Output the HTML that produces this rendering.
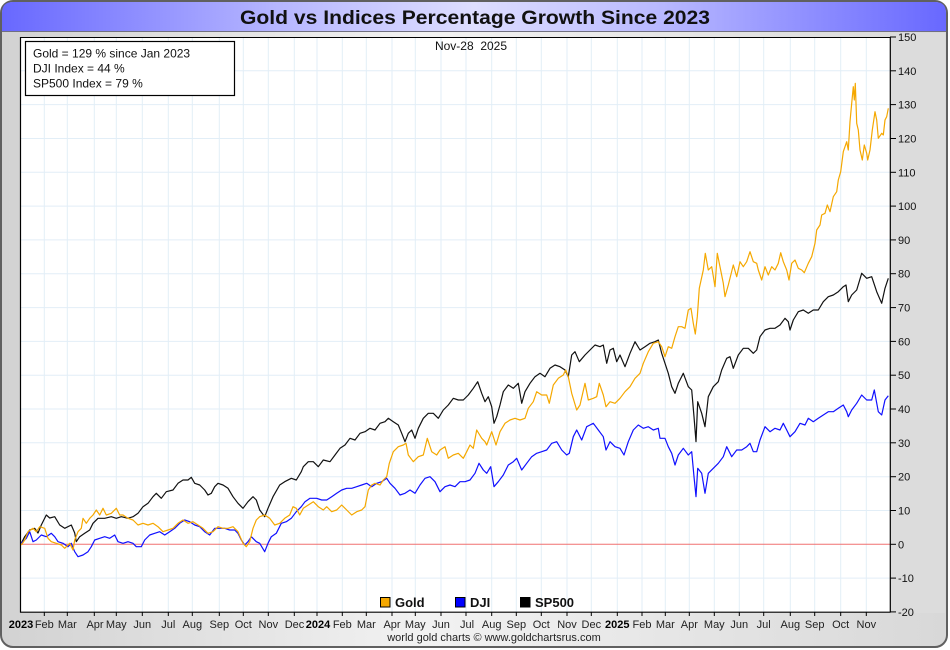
<!DOCTYPE html>
<html><head><meta charset="utf-8"><style>
html,body{margin:0;padding:0;background:#fff;}
svg{display:block;}
text{font-family:"Liberation Sans",Arial,sans-serif;}
</style></head><body>
<svg width="950" height="650" viewBox="0 0 950 650" xmlns="http://www.w3.org/2000/svg">
<defs>
<linearGradient id="tb" x1="0" x2="1" y1="0" y2="0">
<stop offset="0" stop-color="#6868ff"/><stop offset="0.3" stop-color="#b8b8ff"/><stop offset="0.5" stop-color="#dedeff"/><stop offset="0.7" stop-color="#b8b8ff"/><stop offset="1" stop-color="#6868ff"/>
</linearGradient>
<linearGradient id="bg" x1="0" x2="1" y1="0" y2="0">
<stop offset="0" stop-color="#d2d2d2"/><stop offset="0.45" stop-color="#f2f2f2"/><stop offset="1" stop-color="#d8d8d8"/>
</linearGradient>
</defs>
<rect x="0" y="0" width="950" height="650" fill="#fff"/>
<rect x="1" y="1" width="946" height="646" rx="12" ry="12" fill="url(#bg)" stroke="#606060" stroke-width="2"/>
<path d="M2,31 L2,13 Q2,2 13,2 L935,2 Q946,2 946,13 L946,31 Z" fill="url(#tb)"/>
<line x1="2" y1="31.5" x2="946" y2="31.5" stroke="#707080" stroke-width="1"/>
<text x="475" y="24" font-size="19" font-weight="bold" text-anchor="middle" fill="#111" textLength="470" lengthAdjust="spacingAndGlyphs">Gold vs Indices Percentage Growth Since 2023</text>
<rect x="891" y="33" width="54" height="580" fill="#dcdcdc"/>
<rect x="20.5" y="37" width="869.5" height="575" fill="#fff"/>
<g stroke="#e2eef7" stroke-width="1">
<line x1="21" x2="890" y1="70.8" y2="70.8"/><line x1="21" x2="890" y1="104.6" y2="104.6"/><line x1="21" x2="890" y1="138.5" y2="138.5"/><line x1="21" x2="890" y1="172.3" y2="172.3"/><line x1="21" x2="890" y1="206.1" y2="206.1"/><line x1="21" x2="890" y1="239.9" y2="239.9"/><line x1="21" x2="890" y1="273.7" y2="273.7"/><line x1="21" x2="890" y1="307.6" y2="307.6"/><line x1="21" x2="890" y1="341.4" y2="341.4"/><line x1="21" x2="890" y1="375.2" y2="375.2"/><line x1="21" x2="890" y1="409" y2="409"/><line x1="21" x2="890" y1="442.8" y2="442.8"/><line x1="21" x2="890" y1="476.7" y2="476.7"/><line x1="21" x2="890" y1="510.5" y2="510.5"/><line x1="21" x2="890" y1="578.1" y2="578.1"/>
<line x1="44.3" x2="44.3" y1="37" y2="612"/><line x1="67.3" x2="67.3" y1="37" y2="612"/><line x1="94.3" x2="94.3" y1="37" y2="612"/><line x1="116.3" x2="116.3" y1="37" y2="612"/><line x1="142.3" x2="142.3" y1="37" y2="612"/><line x1="168.3" x2="168.3" y1="37" y2="612"/><line x1="192.3" x2="192.3" y1="37" y2="612"/><line x1="219.3" x2="219.3" y1="37" y2="612"/><line x1="243.3" x2="243.3" y1="37" y2="612"/><line x1="268.3" x2="268.3" y1="37" y2="612"/><line x1="294.3" x2="294.3" y1="37" y2="612"/><line x1="317" x2="317" y1="37" y2="612"/><line x1="342.3" x2="342.3" y1="37" y2="612"/><line x1="366.3" x2="366.3" y1="37" y2="612"/><line x1="392" x2="392" y1="37" y2="612"/><line x1="415.3" x2="415.3" y1="37" y2="612"/><line x1="441" x2="441" y1="37" y2="612"/><line x1="466" x2="466" y1="37" y2="612"/><line x1="491.7" x2="491.7" y1="37" y2="612"/><line x1="516.3" x2="516.3" y1="37" y2="612"/><line x1="541.3" x2="541.3" y1="37" y2="612"/><line x1="567" x2="567" y1="37" y2="612"/><line x1="591.3" x2="591.3" y1="37" y2="612"/><line x1="617.3" x2="617.3" y1="37" y2="612"/><line x1="642" x2="642" y1="37" y2="612"/><line x1="665.3" x2="665.3" y1="37" y2="612"/><line x1="689.3" x2="689.3" y1="37" y2="612"/><line x1="714.3" x2="714.3" y1="37" y2="612"/><line x1="739.3" x2="739.3" y1="37" y2="612"/><line x1="763.7" x2="763.7" y1="37" y2="612"/><line x1="790.3" x2="790.3" y1="37" y2="612"/><line x1="814.7" x2="814.7" y1="37" y2="612"/><line x1="840.7" x2="840.7" y1="37" y2="612"/><line x1="866.3" x2="866.3" y1="37" y2="612"/>
</g>
<line x1="21" x2="890" y1="544.3" y2="544.3" stroke="#f07070" stroke-width="1"/>
<line x1="20.5" y1="37" x2="20.5" y2="612.5" stroke="#000" stroke-width="1.2"/>
<line x1="20" y1="37.5" x2="890" y2="37.5" stroke="#000" stroke-width="1"/>
<line x1="20" y1="612.2" x2="890.5" y2="612.2" stroke="#000" stroke-width="1.2"/>
<line x1="890.3" y1="37" x2="890.3" y2="612.5" stroke="#000" stroke-width="1.2"/>
<g stroke="#000" stroke-width="1">
<line x1="890" x2="896" y1="37" y2="37"/><line x1="890" x2="896" y1="70.8" y2="70.8"/><line x1="890" x2="896" y1="104.6" y2="104.6"/><line x1="890" x2="896" y1="138.5" y2="138.5"/><line x1="890" x2="896" y1="172.3" y2="172.3"/><line x1="890" x2="896" y1="206.1" y2="206.1"/><line x1="890" x2="896" y1="239.9" y2="239.9"/><line x1="890" x2="896" y1="273.7" y2="273.7"/><line x1="890" x2="896" y1="307.6" y2="307.6"/><line x1="890" x2="896" y1="341.4" y2="341.4"/><line x1="890" x2="896" y1="375.2" y2="375.2"/><line x1="890" x2="896" y1="409" y2="409"/><line x1="890" x2="896" y1="442.8" y2="442.8"/><line x1="890" x2="896" y1="476.7" y2="476.7"/><line x1="890" x2="896" y1="510.5" y2="510.5"/><line x1="890" x2="896" y1="544.3" y2="544.3"/><line x1="890" x2="896" y1="578.1" y2="578.1"/><line x1="890" x2="896" y1="611.9" y2="611.9"/>
</g>
<g font-size="11" fill="#111">
<text x="898" y="41">150</text><text x="898" y="74.8">140</text><text x="898" y="108.6">130</text><text x="898" y="142.5">120</text><text x="898" y="176.3">110</text><text x="898" y="210.1">100</text><text x="898" y="243.9">90</text><text x="898" y="277.7">80</text><text x="898" y="311.6">70</text><text x="898" y="345.4">60</text><text x="898" y="379.2">50</text><text x="898" y="413">40</text><text x="898" y="446.8">30</text><text x="898" y="480.7">20</text><text x="898" y="514.5">10</text><text x="898" y="548.3">0</text><text x="898" y="582.1">-10</text><text x="898" y="615.9">-20</text>
</g>
<g stroke="#000" stroke-width="1">
<line x1="44.3" x2="44.3" y1="612" y2="616"/><line x1="67.3" x2="67.3" y1="612" y2="616"/><line x1="94.3" x2="94.3" y1="612" y2="616"/><line x1="116.3" x2="116.3" y1="612" y2="616"/><line x1="142.3" x2="142.3" y1="612" y2="616"/><line x1="168.3" x2="168.3" y1="612" y2="616"/><line x1="192.3" x2="192.3" y1="612" y2="616"/><line x1="219.3" x2="219.3" y1="612" y2="616"/><line x1="243.3" x2="243.3" y1="612" y2="616"/><line x1="268.3" x2="268.3" y1="612" y2="616"/><line x1="294.3" x2="294.3" y1="612" y2="616"/><line x1="317" x2="317" y1="612" y2="616"/><line x1="342.3" x2="342.3" y1="612" y2="616"/><line x1="366.3" x2="366.3" y1="612" y2="616"/><line x1="392" x2="392" y1="612" y2="616"/><line x1="415.3" x2="415.3" y1="612" y2="616"/><line x1="441" x2="441" y1="612" y2="616"/><line x1="466" x2="466" y1="612" y2="616"/><line x1="491.7" x2="491.7" y1="612" y2="616"/><line x1="516.3" x2="516.3" y1="612" y2="616"/><line x1="541.3" x2="541.3" y1="612" y2="616"/><line x1="567" x2="567" y1="612" y2="616"/><line x1="591.3" x2="591.3" y1="612" y2="616"/><line x1="617.3" x2="617.3" y1="612" y2="616"/><line x1="642" x2="642" y1="612" y2="616"/><line x1="665.3" x2="665.3" y1="612" y2="616"/><line x1="689.3" x2="689.3" y1="612" y2="616"/><line x1="714.3" x2="714.3" y1="612" y2="616"/><line x1="739.3" x2="739.3" y1="612" y2="616"/><line x1="763.7" x2="763.7" y1="612" y2="616"/><line x1="790.3" x2="790.3" y1="612" y2="616"/><line x1="814.7" x2="814.7" y1="612" y2="616"/><line x1="840.7" x2="840.7" y1="612" y2="616"/><line x1="866.3" x2="866.3" y1="612" y2="616"/>
</g>
<g font-size="11" fill="#222" text-anchor="middle">
<text x="21" y="628" font-weight="bold" fill="#000">2023</text><text x="44.3" y="628">Feb</text><text x="67.3" y="628">Mar</text><text x="95" y="628">Apr</text><text x="116.3" y="628">May</text><text x="142.3" y="628">Jun</text><text x="168.3" y="628">Jul</text><text x="192.3" y="628">Aug</text><text x="219.3" y="628">Sep</text><text x="243.3" y="628">Oct</text><text x="268.3" y="628">Nov</text><text x="294.5" y="628">Dec</text><text x="318" y="628" font-weight="bold" fill="#000">2024</text><text x="342.3" y="628">Feb</text><text x="366.3" y="628">Mar</text><text x="392" y="628">Apr</text><text x="415.3" y="628">May</text><text x="441" y="628">Jun</text><text x="467" y="628">Jul</text><text x="491.7" y="628">Aug</text><text x="516.3" y="628">Sep</text><text x="541.3" y="628">Oct</text><text x="567" y="628">Nov</text><text x="591.3" y="628">Dec</text><text x="617.3" y="628" font-weight="bold" fill="#000">2025</text><text x="642" y="628">Feb</text><text x="665.3" y="628">Mar</text><text x="689.3" y="628">Apr</text><text x="714.3" y="628">May</text><text x="739.3" y="628">Jun</text><text x="763.7" y="628">Jul</text><text x="790.3" y="628">Aug</text><text x="814.7" y="628">Sep</text><text x="840.7" y="628">Oct</text><text x="866.3" y="628">Nov</text>
</g>
<text x="494" y="641" font-size="11" fill="#222" text-anchor="middle">world gold charts © www.goldchartsrus.com</text>
<polyline fill="none" stroke="#111" stroke-width="1.2" stroke-linejoin="round" points="21.3,543.3 24.7,536.7 29.7,530 34.7,528.3 38,533 41.3,525 46.3,515 49.7,518 54.7,516.7 59.7,525 64.7,528.3 71.3,525 74.7,533 76.3,541.7 79.7,536.7 84.7,533.3 89.7,530 93,523.3 98,518.3 104.7,518.3 111.3,516.7 116.3,518.3 121.3,516.7 128,518.3 133,516.7 138,513.3 143,506.7 148,503.3 153,496.7 156.3,493.3 161.3,498.3 166.3,491.7 173,490 178,483.3 183,480 188,480 191.3,477.3 194.7,483.3 199.7,485 204.7,490 208,495 211.3,493.3 214.7,486.7 218,483.3 223,485 228,488.3 233,496.7 238,503.3 243,508.3 248,501.7 253,496.7 256.3,500 259.7,510 264.7,516.7 268,508.3 273,496.7 279.7,485 284.7,481.7 291.3,478.3 296.3,480 301.3,471.7 303.3,466.7 308.3,461.7 313.3,461.7 318.3,466.7 323.3,460 330,461.7 335,455 340,448.3 345,445 350,438.3 355,440 360,433.3 365,431.7 370,428.3 375,430 380,423.3 385,421.7 388.3,418.3 393.3,421.7 398.3,425 401.7,433.3 405,441.7 408.3,433.3 411.7,430 415,438.3 418.3,428.3 423.3,418.3 428.3,413.3 433.3,413.3 438.3,418.3 443.3,410 448.3,405 453.3,398.3 458.3,400 463.3,400 468.3,395 473.3,388.3 477.7,381.7 481.7,393.3 485,401.7 488.3,396.7 491.7,406.7 494,423.3 496.7,416.7 500,405 503.3,391.7 508.3,385 513.3,388.3 518.3,383.3 521.7,403.3 525,391.7 530,383.3 535,376.7 540,373.3 545,376.7 550,368.3 555,365 560,366.7 565,370 568.3,376.7 571.7,355 575,351.7 579.3,361.7 585,355 590,350 595,345 600,346.7 603.3,345 606.7,363.3 610,350 613.3,348.3 616.7,361.7 620,355 625,366.7 630,353.3 635,341.7 640,350 645,346.7 650,343.3 655,341.7 658.3,340 661.7,353.3 665,363.3 668.3,373.3 671.7,386.7 675,393.3 678.3,383.3 683.3,373.3 688.3,386.7 691.7,390 694,416.7 696,441.7 697.7,401.7 701.7,413.3 705,426.7 708.3,396.7 713.3,386.7 718.3,381.7 721.7,370 726.7,358.3 730,356.7 733.3,368.3 738.3,355 743.3,348.3 748.3,348.3 753.3,353.3 756.7,350 760,336.7 765,330 770,328.3 775,328.3 780,325 785,318.3 788.3,321.7 790,330 793.3,320 798.3,311.7 803.3,310 808.3,313.3 813.3,310 818.3,310 823.3,301.7 828.3,296.7 833.3,295 838.3,291.7 843.3,286.7 846,285 848.3,301.7 851.7,295 856.7,290 861.7,273.3 866.7,278.3 871.7,276.7 876.7,291.7 881.7,303.3 885,288.3 888.3,278.3"/>
<polyline fill="none" stroke="#1010ff" stroke-width="1.2" stroke-linejoin="round" points="21.3,543.3 26.3,538.3 29.7,531.7 33,541.7 36.3,540 41.3,535 46.3,536.7 51.3,533.3 54.7,536.7 58,541.7 63,543.3 68,546.7 71.3,543.3 74.7,551.7 78,556.7 83,555 88,551.7 91.3,546.7 94.7,540 99.7,538.3 104.7,536.7 109.7,538.3 114.7,535 118,541.7 123,543.3 128,541.7 133,543.3 136.3,546.7 141.3,546.7 144.7,540 149.7,535 154.7,533.3 159.7,531.7 164.7,535 169.7,531.7 174.7,528.3 179.7,523.3 184.7,520 189.7,521.7 194.7,525 199.7,526.7 204.7,531.7 209.7,535 214.7,528.3 219.7,528.3 224.7,528.3 229.7,530 234.7,530 238,533.3 241.3,540 244.7,545 248,541.7 251.3,536.7 256.3,541.7 259.7,543.3 264.7,551.7 268,543.3 271.3,536.7 276.3,533.3 281.3,523.3 286.3,521.7 291.3,518.3 296.3,511.7 301.3,506.7 305,501.7 310,498.3 316.7,498.3 321.7,500 326.7,500 331.7,496.7 336.7,493.3 341.7,490 346.7,488.3 351.7,488.3 356.7,486.7 361.7,485 366.7,483.3 371.7,486.7 376.7,483.3 381.7,481.7 386.7,478.3 390,483.3 395,488.3 400,495 405,493.3 410,490 415,493.3 420,485 425,478.3 430,476.7 435,481.7 440,491.7 445,486.7 450,485 455,486.7 460,481.7 465,481.7 470,480 475,473.3 479,463.3 483.3,470 486.7,473.3 490.7,466.7 494,486.7 498.3,481.7 503.3,475 508.3,465 513.3,461.7 516.7,458.3 521.7,470 526.7,463.3 531.7,456.7 536.7,453.3 541.7,451.7 546.7,450 551.7,443.3 556.7,441.7 561.7,450 566.7,455 569.3,453.3 573.3,436.7 576.7,430 581.7,440 586.7,426.7 590,425 593.3,423.3 598.3,430 603.3,436.7 606,450 610,441.7 615,446.7 620,448.3 624,455 628.3,441.7 633.3,430 638.3,425 643.3,428.3 648.3,426.7 653.3,430 658.3,428.3 660,438.3 665,438.3 668.3,446.7 671.7,453.3 675,465 678.3,455 683.3,448.3 688.3,455 691.7,451.7 694,476.7 696,496.7 697.7,468.3 701.7,473.3 705,493.3 708.3,473.3 713.3,468.3 718.3,463.3 723.3,456.7 726.7,446.7 731.7,456.7 736.7,450 741.7,450 746.7,446.7 750,443.3 753.3,451.7 756.7,451.7 760,440 765,426.7 770,431.7 775,428.3 780,430 783.3,423.3 786.7,430 790,436.7 795,431.7 800,423.3 805,425 808.3,418.3 813.3,421.7 818.3,418.3 823.3,415 828.3,411.7 833.3,411.7 838.3,408.3 843.3,405 846.7,411.7 848.3,416.7 851.7,410 856.7,403.3 861.7,395 866.7,400 871.7,400 874.3,390 878.3,411.7 881.7,415 885,400 888.3,395.7"/>
<polyline fill="none" stroke="#f5a800" stroke-width="1.2" stroke-linejoin="round" points="21.3,545 24.7,540 28,531.7 33,528.3 36.3,531.7 39.7,526.7 44.7,528.3 48,538.3 51.3,541.7 56.3,543.3 61.3,545 64.7,548.3 69.7,543.3 73,550 74.7,540 78,531.7 81.3,528.3 83,518.3 86.3,523.3 89.7,518.3 93,515 96.3,510 99.7,515 103,508.3 106.3,515 111.3,513.3 116.3,508.3 119.7,515 123,515 128,518.3 133,520 138,525 143,523.3 148,525 153,523.3 158,526.7 163,531.7 168,530 173,528.3 178,523.3 183,520 188,523.3 193,521.7 198,525 203,528.3 208,533.3 213,531.7 218,526.7 223,528.3 228,528.3 233,526.7 238,531.7 243,543.3 246.3,546.7 249.7,541.7 253,528.3 256.3,520 259.7,516.7 264.7,515 269.7,518.3 274.7,525 279.7,523.3 284.7,518.3 289.7,515 293,506.7 296.3,508.3 299.7,515 303.3,508.3 308.3,505 313.3,501.7 318.3,506.7 323.3,510 326.7,506.7 331.7,511.7 336.7,510 341.7,505 346.7,510 351.7,515 356.7,511.7 361.7,510 365,506.7 368.3,490 371.7,485 375,483.3 380,485 383.3,480 386.7,476.7 389.3,463.3 393.3,451.7 398.3,446.7 403.3,445 406,443.3 408.3,455 413.3,461.7 418.3,456.7 423.3,455 427.3,438.3 431.7,451.7 436.7,455 440,450 445,446.7 448.3,458.3 453.3,455 458.3,453.3 463.3,458.3 466.7,451.7 470,445 473.3,448.3 476.7,430 481.7,438.3 485,441.7 486.7,445 491.7,431.7 496,445 500,431.7 505,423.3 510,420 515,418.3 520,420 525,418.3 528.3,408.3 533.3,401.7 536.7,391.7 541.7,395 546.7,395 549.3,403.3 553.3,385 558.3,378.3 563.3,375 565.7,370 568.3,376.7 571.7,393.3 576.7,410 580,405 585,383.3 588.3,400 593.3,398.3 596.7,396.7 599.3,383.3 603.3,395 606,406.7 610,401.7 615,403.3 620,398.3 625,391.7 630,386.7 635,378.3 640,373.3 643.3,363.3 648.3,351.7 653.3,343.3 658.3,341.7 661.7,346.7 665,356.7 668.3,346.7 671.7,348.3 675,336.7 678.3,326.7 681.7,326.7 685,328.3 688.3,310 691,308.3 693.3,323.3 695.3,334 697.3,316.7 699.3,288.3 703.3,270 705.3,253.3 708.3,270 711.7,266.7 715,286.7 717.3,253.3 720,266.7 723.3,283.3 725,296.7 728.3,285 733.3,265 736.7,276.7 740,261.7 743.3,266.7 746.7,261.7 750,251.7 753.3,261.7 756.7,263.3 758.3,270 761.7,280 765,266.7 768.3,275 771.7,266.7 775,270 778.3,263.3 780.7,252.7 783.3,261.7 786.7,270 789,280 791.7,263.3 795,260 798.3,268.3 801.7,270 804.3,272.7 808.3,263.3 811.7,256.7 815,243.3 816.7,230 820,225 821.7,215 825,213.3 827.3,205 830,211.7 833.3,196.7 836.7,191.7 838.3,180 840.7,171.7 843.3,151.7 846.7,141.7 848.3,150 850,121.7 851.7,103.3 853.3,86.7 854.3,100 855.3,83.3 856.7,123.3 858.3,130 860,150 862.3,160 864.3,145 866.7,153.3 867.7,160 870,150 872.3,130 875,111.7 876.7,120 878.3,138.3 881.7,133.3 883.3,135 885,120 886.7,116.7 888.3,108.3"/>
<rect x="25.5" y="41.5" width="209" height="54" fill="#fff" stroke="#000" stroke-width="1.2"/>
<g font-size="12" fill="#111">
<text x="33" y="57.5">Gold = 129 % since Jan 2023</text>
<text x="33" y="72.5">DJI Index = 44 %</text>
<text x="33" y="87.5">SP500 Index = 79 %</text>
</g>
<text x="471" y="50" font-size="12" fill="#111" text-anchor="middle">Nov-28&#160; 2025</text>
<rect x="380.5" y="597.5" width="9.5" height="9.5" fill="#f5a800" stroke="#000" stroke-width="1"/>
<text x="395" y="607" font-size="13" font-weight="bold" fill="#111">Gold</text>
<rect x="455.5" y="597.5" width="9.5" height="9.5" fill="#0000ff" stroke="#000" stroke-width="1"/>
<text x="470" y="607" font-size="13" font-weight="bold" fill="#111">DJI</text>
<rect x="520.5" y="597.5" width="9.5" height="9.5" fill="#000" stroke="#000" stroke-width="1"/>
<text x="535" y="607" font-size="13" font-weight="bold" fill="#111">SP500</text>
</svg>
</body></html>
